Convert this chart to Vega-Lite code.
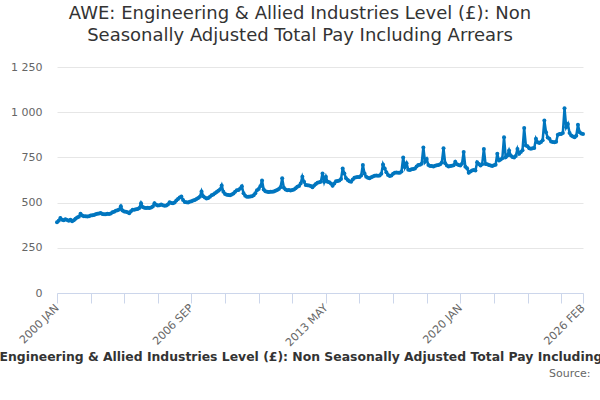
{
  "$schema": "https://vega.github.io/schema/vega-lite/v6.json",
  "autosize": {"type": "none"},
  "width": 526,
  "height": 226,
  "padding": {"left": 57, "top": 67, "right": 17, "bottom": 107},
  "background": "white",
  "title": {
    "text": ["AWE: Engineering & Allied Industries Level (£): Non", "Seasonally Adjusted Total Pay Including Arrears"],
    "font": "DejaVu Sans",
    "fontSize": 18,
    "fontWeight": "normal",
    "color": "#333333",
    "lineHeight": 22,
    "anchor": "middle",
    "dx": -20,
    "offset": 16
  },
  "data": {
    "values": [
      {"m": "2000 JAN", "v": 392}, {"m": "2000 FEB", "v": 400}, {"m": "2000 MAR", "v": 415}, {"m": "2000 APR", "v": 405}, {"m": "2000 MAY", "v": 402}, {"m": "2000 JUN", "v": 408}, {"m": "2000 JUL", "v": 404}, {"m": "2000 AUG", "v": 400}, {"m": "2000 SEP", "v": 405}, {"m": "2000 OCT", "v": 397}, {"m": "2000 NOV", "v": 403}, {"m": "2000 DEC", "v": 410},
      {"m": "2001 JAN", "v": 418}, {"m": "2001 FEB", "v": 422}, {"m": "2001 MAR", "v": 438}, {"m": "2001 APR", "v": 428}, {"m": "2001 MAY", "v": 424}, {"m": "2001 JUN", "v": 425}, {"m": "2001 JUL", "v": 423}, {"m": "2001 AUG", "v": 424}, {"m": "2001 SEP", "v": 428}, {"m": "2001 OCT", "v": 430}, {"m": "2001 NOV", "v": 432}, {"m": "2001 DEC", "v": 436},
      {"m": "2002 JAN", "v": 438}, {"m": "2002 FEB", "v": 440}, {"m": "2002 MAR", "v": 442}, {"m": "2002 APR", "v": 437}, {"m": "2002 MAY", "v": 435}, {"m": "2002 JUN", "v": 436}, {"m": "2002 JUL", "v": 438}, {"m": "2002 AUG", "v": 437}, {"m": "2002 SEP", "v": 440}, {"m": "2002 OCT", "v": 446}, {"m": "2002 NOV", "v": 450}, {"m": "2002 DEC", "v": 455},
      {"m": "2003 JAN", "v": 458}, {"m": "2003 FEB", "v": 462}, {"m": "2003 MAR", "v": 480}, {"m": "2003 APR", "v": 456}, {"m": "2003 MAY", "v": 451}, {"m": "2003 JUN", "v": 450}, {"m": "2003 JUL", "v": 446}, {"m": "2003 AUG", "v": 441}, {"m": "2003 SEP", "v": 452}, {"m": "2003 OCT", "v": 460}, {"m": "2003 NOV", "v": 461}, {"m": "2003 DEC", "v": 463},
      {"m": "2004 JAN", "v": 465}, {"m": "2004 FEB", "v": 470}, {"m": "2004 MAR", "v": 497}, {"m": "2004 APR", "v": 476}, {"m": "2004 MAY", "v": 471}, {"m": "2004 JUN", "v": 470}, {"m": "2004 JUL", "v": 472}, {"m": "2004 AUG", "v": 470}, {"m": "2004 SEP", "v": 473}, {"m": "2004 OCT", "v": 478}, {"m": "2004 NOV", "v": 497}, {"m": "2004 DEC", "v": 488},
      {"m": "2005 JAN", "v": 484}, {"m": "2005 FEB", "v": 486}, {"m": "2005 MAR", "v": 490}, {"m": "2005 APR", "v": 485}, {"m": "2005 MAY", "v": 483}, {"m": "2005 JUN", "v": 484}, {"m": "2005 JUL", "v": 490}, {"m": "2005 AUG", "v": 502}, {"m": "2005 SEP", "v": 498}, {"m": "2005 OCT", "v": 496}, {"m": "2005 NOV", "v": 500}, {"m": "2005 DEC", "v": 512},
      {"m": "2006 JAN", "v": 520}, {"m": "2006 FEB", "v": 528}, {"m": "2006 MAR", "v": 534}, {"m": "2006 APR", "v": 515}, {"m": "2006 MAY", "v": 503}, {"m": "2006 JUN", "v": 502}, {"m": "2006 JUL", "v": 500}, {"m": "2006 AUG", "v": 505}, {"m": "2006 SEP", "v": 507}, {"m": "2006 OCT", "v": 512}, {"m": "2006 NOV", "v": 514}, {"m": "2006 DEC", "v": 520},
      {"m": "2007 JAN", "v": 525}, {"m": "2007 FEB", "v": 532}, {"m": "2007 MAR", "v": 562}, {"m": "2007 APR", "v": 535}, {"m": "2007 MAY", "v": 528}, {"m": "2007 JUN", "v": 523}, {"m": "2007 JUL", "v": 525}, {"m": "2007 AUG", "v": 532}, {"m": "2007 SEP", "v": 540}, {"m": "2007 OCT", "v": 545}, {"m": "2007 NOV", "v": 552}, {"m": "2007 DEC", "v": 558},
      {"m": "2008 JAN", "v": 565}, {"m": "2008 FEB", "v": 572}, {"m": "2008 MAR", "v": 595}, {"m": "2008 APR", "v": 560}, {"m": "2008 MAY", "v": 548}, {"m": "2008 JUN", "v": 543}, {"m": "2008 JUL", "v": 542}, {"m": "2008 AUG", "v": 540}, {"m": "2008 SEP", "v": 545}, {"m": "2008 OCT", "v": 550}, {"m": "2008 NOV", "v": 560}, {"m": "2008 DEC", "v": 568},
      {"m": "2009 JAN", "v": 570}, {"m": "2009 FEB", "v": 578}, {"m": "2009 MAR", "v": 590}, {"m": "2009 APR", "v": 552}, {"m": "2009 MAY", "v": 538}, {"m": "2009 JUN", "v": 533}, {"m": "2009 JUL", "v": 532}, {"m": "2009 AUG", "v": 534}, {"m": "2009 SEP", "v": 535}, {"m": "2009 OCT", "v": 540}, {"m": "2009 NOV", "v": 552}, {"m": "2009 DEC", "v": 568},
      {"m": "2010 JAN", "v": 575}, {"m": "2010 FEB", "v": 590}, {"m": "2010 MAR", "v": 622}, {"m": "2010 APR", "v": 572}, {"m": "2010 MAY", "v": 563}, {"m": "2010 JUN", "v": 560}, {"m": "2010 JUL", "v": 558}, {"m": "2010 AUG", "v": 560}, {"m": "2010 SEP", "v": 560}, {"m": "2010 OCT", "v": 562}, {"m": "2010 NOV", "v": 565}, {"m": "2010 DEC", "v": 570},
      {"m": "2011 JAN", "v": 575}, {"m": "2011 FEB", "v": 585}, {"m": "2011 MAR", "v": 634}, {"m": "2011 APR", "v": 582}, {"m": "2011 MAY", "v": 572}, {"m": "2011 JUN", "v": 568}, {"m": "2011 JUL", "v": 569}, {"m": "2011 AUG", "v": 567}, {"m": "2011 SEP", "v": 570}, {"m": "2011 OCT", "v": 572}, {"m": "2011 NOV", "v": 580}, {"m": "2011 DEC", "v": 588},
      {"m": "2012 JAN", "v": 592}, {"m": "2012 FEB", "v": 605}, {"m": "2012 MAR", "v": 643}, {"m": "2012 APR", "v": 615}, {"m": "2012 MAY", "v": 598}, {"m": "2012 JUN", "v": 596}, {"m": "2012 JUL", "v": 595}, {"m": "2012 AUG", "v": 592}, {"m": "2012 SEP", "v": 585}, {"m": "2012 OCT", "v": 595}, {"m": "2012 NOV", "v": 603}, {"m": "2012 DEC", "v": 610},
      {"m": "2013 JAN", "v": 612}, {"m": "2013 FEB", "v": 615}, {"m": "2013 MAR", "v": 661}, {"m": "2013 APR", "v": 615}, {"m": "2013 MAY", "v": 643}, {"m": "2013 JUN", "v": 615}, {"m": "2013 JUL", "v": 612}, {"m": "2013 AUG", "v": 605}, {"m": "2013 SEP", "v": 593}, {"m": "2013 OCT", "v": 605}, {"m": "2013 NOV", "v": 618}, {"m": "2013 DEC", "v": 620},
      {"m": "2014 JAN", "v": 622}, {"m": "2014 FEB", "v": 630}, {"m": "2014 MAR", "v": 689}, {"m": "2014 APR", "v": 661}, {"m": "2014 MAY", "v": 634}, {"m": "2014 JUN", "v": 625}, {"m": "2014 JUL", "v": 618}, {"m": "2014 AUG", "v": 615}, {"m": "2014 SEP", "v": 628}, {"m": "2014 OCT", "v": 638}, {"m": "2014 NOV", "v": 640}, {"m": "2014 DEC", "v": 642},
      {"m": "2015 JAN", "v": 642}, {"m": "2015 FEB", "v": 650}, {"m": "2015 MAR", "v": 708}, {"m": "2015 APR", "v": 661}, {"m": "2015 MAY", "v": 643}, {"m": "2015 JUN", "v": 638}, {"m": "2015 JUL", "v": 634}, {"m": "2015 AUG", "v": 640}, {"m": "2015 SEP", "v": 645}, {"m": "2015 OCT", "v": 648}, {"m": "2015 NOV", "v": 650}, {"m": "2015 DEC", "v": 648},
      {"m": "2016 JAN", "v": 650}, {"m": "2016 FEB", "v": 660}, {"m": "2016 MAR", "v": 711}, {"m": "2016 APR", "v": 689}, {"m": "2016 MAY", "v": 668}, {"m": "2016 JUN", "v": 652}, {"m": "2016 JUL", "v": 647}, {"m": "2016 AUG", "v": 650}, {"m": "2016 SEP", "v": 660}, {"m": "2016 OCT", "v": 665}, {"m": "2016 NOV", "v": 667}, {"m": "2016 DEC", "v": 665},
      {"m": "2017 JAN", "v": 665}, {"m": "2017 FEB", "v": 672}, {"m": "2017 MAR", "v": 750}, {"m": "2017 APR", "v": 695}, {"m": "2017 MAY", "v": 717}, {"m": "2017 JUN", "v": 682}, {"m": "2017 JUL", "v": 680}, {"m": "2017 AUG", "v": 684}, {"m": "2017 SEP", "v": 686}, {"m": "2017 OCT", "v": 688}, {"m": "2017 NOV", "v": 700}, {"m": "2017 DEC", "v": 708},
      {"m": "2018 JAN", "v": 710}, {"m": "2018 FEB", "v": 715}, {"m": "2018 MAR", "v": 805}, {"m": "2018 APR", "v": 726}, {"m": "2018 MAY", "v": 741}, {"m": "2018 JUN", "v": 708}, {"m": "2018 JUL", "v": 703}, {"m": "2018 AUG", "v": 702}, {"m": "2018 SEP", "v": 700}, {"m": "2018 OCT", "v": 704}, {"m": "2018 NOV", "v": 706}, {"m": "2018 DEC", "v": 708},
      {"m": "2019 JAN", "v": 712}, {"m": "2019 FEB", "v": 722}, {"m": "2019 MAR", "v": 800}, {"m": "2019 APR", "v": 717}, {"m": "2019 MAY", "v": 705}, {"m": "2019 JUN", "v": 700}, {"m": "2019 JUL", "v": 702}, {"m": "2019 AUG", "v": 704}, {"m": "2019 SEP", "v": 706}, {"m": "2019 OCT", "v": 726}, {"m": "2019 NOV", "v": 712}, {"m": "2019 DEC", "v": 708},
      {"m": "2020 JAN", "v": 705}, {"m": "2020 FEB", "v": 715}, {"m": "2020 MAR", "v": 780}, {"m": "2020 APR", "v": 698}, {"m": "2020 MAY", "v": 690}, {"m": "2020 JUN", "v": 665}, {"m": "2020 JUL", "v": 672}, {"m": "2020 AUG", "v": 677}, {"m": "2020 SEP", "v": 680}, {"m": "2020 OCT", "v": 678}, {"m": "2020 NOV", "v": 723}, {"m": "2020 DEC", "v": 714},
      {"m": "2021 JAN", "v": 705}, {"m": "2021 FEB", "v": 712}, {"m": "2021 MAR", "v": 797}, {"m": "2021 APR", "v": 714}, {"m": "2021 MAY", "v": 712}, {"m": "2021 JUN", "v": 708}, {"m": "2021 JUL", "v": 705}, {"m": "2021 AUG", "v": 703}, {"m": "2021 SEP", "v": 707}, {"m": "2021 OCT", "v": 710}, {"m": "2021 NOV", "v": 770}, {"m": "2021 DEC", "v": 733},
      {"m": "2022 JAN", "v": 738}, {"m": "2022 FEB", "v": 745}, {"m": "2022 MAR", "v": 862}, {"m": "2022 APR", "v": 751}, {"m": "2022 MAY", "v": 760}, {"m": "2022 JUN", "v": 788}, {"m": "2022 JUL", "v": 760}, {"m": "2022 AUG", "v": 752}, {"m": "2022 SEP", "v": 750}, {"m": "2022 OCT", "v": 758}, {"m": "2022 NOV", "v": 797}, {"m": "2022 DEC", "v": 770},
      {"m": "2023 JAN", "v": 780}, {"m": "2023 FEB", "v": 790}, {"m": "2023 MAR", "v": 912}, {"m": "2023 APR", "v": 816}, {"m": "2023 MAY", "v": 812}, {"m": "2023 JUN", "v": 800}, {"m": "2023 JUL", "v": 798}, {"m": "2023 AUG", "v": 800}, {"m": "2023 SEP", "v": 802}, {"m": "2023 OCT", "v": 853}, {"m": "2023 NOV", "v": 834}, {"m": "2023 DEC", "v": 830},
      {"m": "2024 JAN", "v": 835}, {"m": "2024 FEB", "v": 845}, {"m": "2024 MAR", "v": 954}, {"m": "2024 APR", "v": 889}, {"m": "2024 MAY", "v": 860}, {"m": "2024 JUN", "v": 853}, {"m": "2024 JUL", "v": 838}, {"m": "2024 AUG", "v": 835}, {"m": "2024 SEP", "v": 834}, {"m": "2024 OCT", "v": 836}, {"m": "2024 NOV", "v": 875}, {"m": "2024 DEC", "v": 880},
      {"m": "2025 JAN", "v": 880}, {"m": "2025 FEB", "v": 885}, {"m": "2025 MAR", "v": 1022}, {"m": "2025 APR", "v": 917}, {"m": "2025 MAY", "v": 935}, {"m": "2025 JUN", "v": 885}, {"m": "2025 JUL", "v": 871}, {"m": "2025 AUG", "v": 865}, {"m": "2025 SEP", "v": 862}, {"m": "2025 OCT", "v": 870}, {"m": "2025 NOV", "v": 930}, {"m": "2025 DEC", "v": 889},
      {"m": "2026 JAN", "v": 882}, {"m": "2026 FEB", "v": 880}
    ]
  },
  "layer": [
    {
      "mark": {
        "type": "line",
        "color": "#0076bf",
        "strokeWidth": 2.5,
        "point": {"filled": true, "size": 16, "color": "#0076bf"}
      },
      "encoding": {
        "x": {
          "field": "m",
          "type": "ordinal",
          "sort": null,
          "scale": {"type": "point", "padding": 0},
          "axis": {
            "values": ["2000 JAN", "2001 SEP", "2003 MAY", "2005 JAN", "2006 SEP", "2008 MAY", "2010 JAN", "2011 SEP", "2013 MAY", "2015 JAN", "2016 SEP", "2018 MAY", "2020 JAN", "2021 SEP", "2023 MAY", "2025 JAN", "2026 FEB"],
            "labelExpr": "indexof(['2000 JAN', '2006 SEP', '2013 MAY', '2020 JAN', '2026 FEB'], datum.value) >= 0 ? datum.value : ''",
            "labelAngle": -45,
            "labelAlign": "right",
            "labelBaseline": "middle",
            "labelOverlap": false,
            "labelFont": "DejaVu Sans",
            "labelFontSize": 11,
            "labelColor": "#666666",
            "labelPadding": 3,
            "domainColor": "#ccd6eb",
            "tickColor": "#ccd6eb",
            "tickSize": 10,
            "grid": false,
            "title": "Engineering & Allied Industries Level (£): Non Seasonally Adjusted Total Pay Including Arrears",
            "titleFont": "DejaVu Sans",
            "titleFontSize": 12.4,
            "titleFontWeight": "bold",
            "titleColor": "#333333",
            "titleAlign": "left",
            "titleBaseline": "alphabetic",
            "titleX": -58,
            "titleY": 67
          }
        },
        "y": {
          "field": "v",
          "type": "quantitative",
          "scale": {"domain": [0, 1250], "nice": false},
          "axis": {
            "values": [0, 250, 500, 750, 1000, 1250],
            "labelExpr": "replace(format(datum.value, ','), ',', ' ')",
            "domain": false,
            "ticks": false,
            "gridColor": "#e6e6e6",
            "labelFont": "DejaVu Sans",
            "labelFontSize": 11,
            "labelColor": "#666666",
            "labelPadding": 15,
            "title": null
          }
        }
      }
    },
    {
      "mark": {"type": "line", "opacity": 0},
      "encoding": {
        "x": {
          "field": "m",
          "type": "ordinal",
          "sort": null,
          "axis": {
            "orient": "bottom",
            "domain": false,
            "ticks": false,
            "labels": false,
            "grid": false,
            "title": "Source:",
            "titleFont": "DejaVu Sans",
            "titleFontSize": 11,
            "titleFontWeight": "normal",
            "titleColor": "#666666",
            "titleAlign": "right",
            "titleBaseline": "alphabetic",
            "titleX": 533,
            "titleY": 83
          }
        },
        "y": {"field": "v", "type": "quantitative"}
      }
    }
  ],
  "resolve": {"axis": {"x": "independent"}},
  "config": {"view": {"stroke": null}, "font": "DejaVu Sans"}
}
